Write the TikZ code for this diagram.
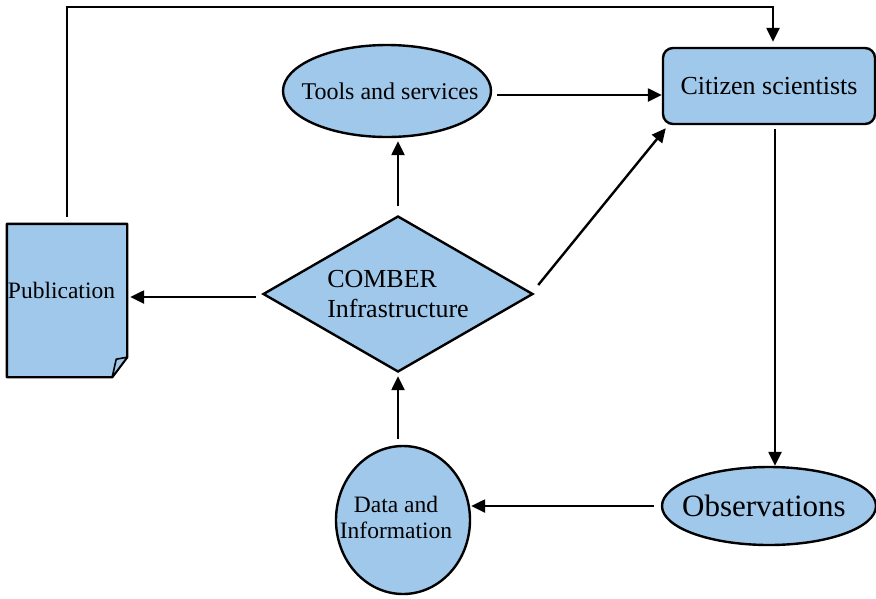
\documentclass[tikz,border=0pt]{standalone}
\usepackage{fontspec}
\setmainfont{Liberation Serif}
\usetikzlibrary{shapes.geometric,arrows.meta,backgrounds,calc}
\definecolor{boxblue}{RGB}{160,200,234}
\begin{document}
\begin{tikzpicture}[x=1pt,y=-1pt,
  shapeline/.style={draw=black,line width=2.4pt,fill=boxblue,inner sep=0pt},
  arr/.style={line width=2.4pt,-{Triangle[length=14pt,width=13pt]}}]
\useasboundingbox (0,0) rectangle (876,598);

\node[shapeline, ellipse, minimum width=208pt, minimum height=92pt,
  font=\fontsize{24}{28}\selectfont] (tools) at (387,91)
  {\makebox[0pt]{\hspace*{6pt}Tools and services}};
\node[shapeline, rectangle, rounded corners=10pt, minimum width=212pt, minimum height=76pt,
  font=\fontsize{26}{30}\selectfont] (cit) at (769,86) {Citizen scientists};
\node[shapeline, diamond, aspect=1.73, minimum width=270pt, minimum height=156pt,
  align=left, font=\fontsize{26}{30}\selectfont] (dia) at (398,294) {COMBER\\Infrastructure};
\node[shapeline, ellipse, minimum width=214pt, minimum height=78pt,
  font=\fontsize{31}{36}\selectfont] (obs) at (769,506)
  {\makebox[0pt]{\hspace*{-10pt}Observations}};
\node[shapeline, ellipse, minimum width=134pt, minimum height=148pt,
  font=\fontsize{23.5}{28}\selectfont] (data) at (403,520)
  {\makebox[0pt]{\hspace*{-14pt}\begin{tabular}{@{}c@{}}Data and\\[-2pt]Information\end{tabular}}};
\node[minimum width=120pt, minimum height=153pt, inner sep=0pt,
  label={[font=\fontsize{23.5}{28}\selectfont, anchor=west, inner sep=0pt, xshift=1pt, yshift=10pt]west:Publication}]
  (pub) at (67,300.5) {};

\begin{scope}[on background layer]
  \draw[line width=2.4pt, fill=boxblue, line join=round]
    (pub.north west) -- (pub.north east) -- ([yshift=20pt]pub.south east)
    -- ([xshift=-15pt]pub.south east) -- (pub.south west) -- cycle;
  \draw[line width=1.6pt, fill=boxblue, line join=round]
    ([xshift=-15pt]pub.south east) -- ([yshift=20pt]pub.south east)
    -- ([xshift=-11pt,yshift=18pt]pub.south east) -- cycle;
\end{scope}

\coordinate (topy) at (0,7);
\coordinate (c2) at ([xshift=4pt]cit.north);
\draw[arr, shorten <=7pt, shorten >=5pt] (pub.north) -- (pub.north |- topy) -| (c2);

\draw[arr, shorten <=9pt, shorten >=3pt] (dia.north) -- (dia.north |- tools.south);

\coordinate (t1) at ([yshift=-4pt]tools.east);
\draw[arr, shorten <=5pt] (t1) -- (t1 -| cit.west);

\draw[arr] ($(dia.east)+(4,-9)$) -- ($(cit.south west)+(4,3)$);

\coordinate (c1) at ([xshift=6pt]cit.south);
\draw[arr, shorten <=4pt] (c1) -- (c1 |- obs.north);

\draw[arr, shorten <=7pt] (obs.west) -- (obs.west -| data.east);

\coordinate (d0) at (dia.south |- data.north);
\draw[arr, shorten <=6pt, shorten >=3pt] (d0) -- (dia.south);

\coordinate (d1) at ([xshift=-6pt,yshift=-3pt]dia.west);
\draw[arr, shorten >=3pt] (d1) -- (d1 -| pub.east);
\end{tikzpicture}
\end{document}
